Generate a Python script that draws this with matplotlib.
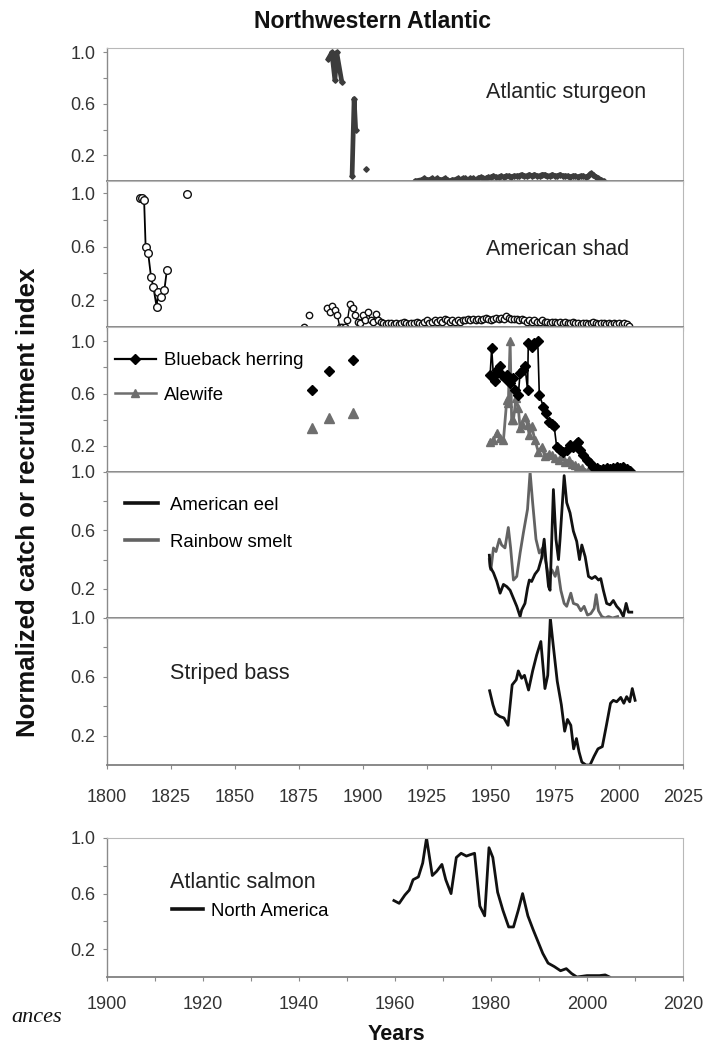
import matplotlib
matplotlib.use("Agg")
from matplotlib import pyplot as plt
from matplotlib.ticker import FixedLocator, NullFormatter
import numpy as np

plt.rcParams['font.family'] = ['Liberation Sans', 'DejaVu Sans']

# ---------------- data ----------------
# Atlantic sturgeon
sturgeon_a_years = [1886.5, 1887.9, 1889.1, 1889.8, 1891.8]
sturgeon_a = [0.95, 1.0, 0.785, 1.0, 0.77]
sturgeon_b_years = [1895.8, 1896.6, 1897.2]
sturgeon_b = [0.04, 0.64, 0.40]
sturgeon_c_years = [1901.2]
sturgeon_c = [0.09]
sturgeon_d_years = [1920.4] + list(range(1923, 1995))
sturgeon_d = [0.0,
              0.01, 0.02, 0.01, 0.01, 0.02, 0.01, 0.02, 0.01, 0.01, 0.02,
              0.01, 0.00, 0.01, 0.01, 0.02, 0.01, 0.02,
              0.02, 0.01, 0.02, 0.02, 0.01, 0.02, 0.03, 0.02, 0.02, 0.03,
              0.03, 0.04, 0.03, 0.03, 0.04, 0.03, 0.04, 0.04, 0.03, 0.04,
              0.04, 0.04, 0.05, 0.04, 0.04, 0.05, 0.04, 0.05, 0.04, 0.04,
              0.05, 0.05, 0.04, 0.04, 0.05, 0.04, 0.04, 0.05, 0.04, 0.04,
              0.04, 0.03, 0.04, 0.04, 0.03, 0.04, 0.04, 0.03, 0.04, 0.06,
              0.05, 0.03, 0.02, 0.01, 0.00]

# American shad
shad_early_years = [1813.0, 1813.9, 1814.6, 1815.2, 1816.2, 1817.3, 1818.2,
                    1819.5, 1820.1, 1821.2, 1822.5, 1823.5]
shad_early = [0.96, 0.96, 0.95, 0.60, 0.55, 0.375, 0.30, 0.15, 0.26, 0.225,
              0.275, 0.425]
shad_1831_years = [1831.5]
shad_1831 = [0.99]
nan = np.nan
shad_late = [0.0, nan, 0.09, nan, nan, nan, nan, nan, nan,          # 1877-1885
             0.14, 0.11, 0.155, 0.125, 0.09, 0.0, 0.0, 0.0,          # 1886-1893
             0.05, 0.175, 0.14, 0.09, 0.04, 0.03, 0.09, 0.05,        # 1894-1901
             0.11, 0.05, 0.04, 0.10, 0.05, 0.04, 0.03,               # 1902-1908
             0.02, 0.03, 0.03, 0.02, 0.03, 0.02, 0.03, 0.04, 0.03, 0.02, 0.03,
             0.03, 0.04, 0.03, 0.02, 0.04, 0.05, 0.03, 0.04, 0.05, 0.04,
             0.05, 0.04, 0.06, 0.05, 0.04, 0.05, 0.04, 0.05, 0.04, 0.05,
             0.05, 0.06, 0.05, 0.06, 0.05, 0.06, 0.05, 0.06, 0.07, 0.06,
             0.05, 0.06, 0.07, 0.06, 0.07, 0.06, 0.08, 0.07, 0.06, 0.06,
             0.06, 0.05, 0.06, 0.05, 0.04, 0.05, 0.04, 0.05, 0.04, 0.04,
             0.05, 0.04, 0.04, 0.03, 0.04, 0.04, 0.03, 0.04, 0.03, 0.04,
             0.03, 0.03, 0.04, 0.03, 0.03, 0.02, 0.03, 0.03, 0.02, 0.03,
             0.04, 0.03, 0.02, 0.03, 0.03, 0.02, 0.03, 0.02, 0.03, 0.02,
             0.03, 0.02, 0.03, 0.02, 0.01]
shad_late_years = list(range(1877, 1877 + len(shad_late)))

# Blueback herring and alewife
hist_years = [1880.3, 1886.8, 1896.3]
herring_hist = [0.63, 0.775, 0.86]
alewife_hist = [0.34, 0.41, 0.455]
herring_years = [1949.7, 1950.3, 1951.0, 1951.6, 1952.5, 1953.6, 1954.2, 1955.5,
                 1956.2, 1957.5, 1958.5, 1959.4, 1960.7, 1961.4, 1962.4, 1963.3,
                 1964.3, 1964.6, 1965.9, 1967.0, 1968.3, 1968.9, 1970.5, 1971.5,
                 1972.5, 1973.8, 1974.7, 1975.7, 1977.0, 1978.3, 1979.6, 1980.9,
                 1982.2, 1983.5, 1984.2, 1984.8, 1986.1, 1987.4, 1988.7, 1990.0,
                 1991.3, 1992.6, 1993.9, 1995.2, 1996.5, 1997.8, 1999.1, 2000.4,
                 2001.7, 2003.0, 2004.3]
herring = [0.74, 0.95, 0.73, 0.70, 0.78, 0.81, 0.74, 0.72, 0.74, 0.68, 0.72,
           0.63, 0.59, 0.76, 0.78, 0.81, 0.63, 0.985, 0.96, 0.985, 1.0, 0.59,
           0.50, 0.45, 0.385, 0.37, 0.35, 0.19, 0.17, 0.155, 0.17, 0.21, 0.19,
           0.22, 0.23, 0.17, 0.13, 0.09, 0.067, 0.04, 0.03, 0.015, 0.02, 0.03,
           0.02, 0.03, 0.04, 0.03, 0.04, 0.02, 0.01]
alewife_years = [1949.7, 1951.0, 1952.3, 1953.6, 1954.9, 1956.2, 1956.8, 1957.5,
                 1958.1, 1958.8, 1959.8, 1960.7, 1961.4, 1962.3, 1963.3, 1964.3,
                 1965.0, 1965.9, 1967.2, 1968.5, 1969.8, 1971.1, 1972.5, 1973.8,
                 1975.1, 1976.4, 1977.7, 1979.0, 1980.3, 1981.6, 1982.9, 1984.2,
                 1985.5, 1986.8, 1988.1, 1989.4]
alewife = [0.23, 0.245, 0.30, 0.26, 0.245, 0.55, 0.53, 1.0, 0.40, 0.40, 0.565,
           0.49, 0.335, 0.37, 0.42, 0.36, 0.28, 0.35, 0.245, 0.155, 0.195, 0.12,
           0.14, 0.13, 0.105, 0.09, 0.12, 0.08, 0.09, 0.065, 0.055, 0.04, 0.03,
           0.0, 0.01, 0.0]

# American eel and rainbow smelt
eel_years = [1949.4, 1949.7, 1951.0, 1952.3, 1953.6, 1954.9, 1956.2, 1957.5,
             1958.8, 1960.1, 1961.4, 1962.0, 1963.3, 1964.3, 1965.0, 1965.9,
             1967.2, 1968.5, 1969.8, 1970.8, 1971.5, 1972.5, 1973.1, 1974.4,
             1975.4, 1976.4, 1977.0, 1978.6, 1979.6, 1980.9, 1982.2, 1983.5,
             1984.6, 1985.5, 1986.8, 1988.1, 1989.4, 1990.7, 1992.0, 1992.9,
             1993.9, 1995.2, 1996.5, 1997.8, 1999.1, 2000.4, 2001.7, 2002.8,
             2003.7, 2005.0]
eel = [0.43, 0.35, 0.31, 0.25, 0.17, 0.23, 0.215, 0.19, 0.135, 0.08, 0.01,
       0.055, 0.10, 0.205, 0.26, 0.25, 0.30, 0.33, 0.41, 0.54, 0.39, 0.215,
       0.19, 0.88, 0.54, 0.40, 0.54, 0.975, 0.79, 0.72, 0.595, 0.525, 0.40,
       0.50, 0.42, 0.285, 0.27, 0.285, 0.26, 0.27, 0.19, 0.10, 0.09, 0.12,
       0.08, 0.055, 0.01, 0.10, 0.04, 0.04]
smelt_years = [1949.4, 1950.0, 1951.0, 1952.0, 1953.3, 1954.2, 1955.5, 1956.8,
               1957.7, 1958.8, 1960.1, 1961.4, 1962.7, 1964.3, 1965.3, 1966.3,
               1967.6, 1968.9, 1970.2, 1971.5, 1972.5, 1973.8, 1975.1, 1976.0,
               1977.3, 1978.6, 1979.6, 1981.2, 1982.2, 1983.8, 1985.1, 1986.4,
               1987.7, 1989.0, 1990.3, 1991.1, 1992.0, 1993.3, 1994.6, 1995.9,
               1997.5, 1999.5]
smelt = [0.40, 0.33, 0.48, 0.455, 0.54, 0.50, 0.48, 0.62, 0.48, 0.26, 0.285,
         0.445, 0.585, 0.745, 1.0, 0.79, 0.54, 0.445, 0.48, 0.38, 0.285, 0.33,
         0.285, 0.35, 0.19, 0.10, 0.08, 0.17, 0.10, 0.09, 0.05, 0.08, 0.02,
         0.03, 0.065, 0.16, 0.05, 0.01, 0.0, 0.01, 0.0, 0.01]

# Striped bass
bass_years = [1949.5, 1950.8, 1951.9, 1953.5, 1955.1, 1956.7, 1958.3, 1959.9,
              1960.7, 1962.0, 1963.1, 1964.7, 1966.3, 1967.9, 1969.5, 1971.1,
              1972.2, 1973.2, 1974.3, 1975.9, 1977.5, 1978.8, 1979.9, 1981.2,
              1982.3, 1983.4, 1984.4, 1985.5, 1987.1, 1988.7, 1990.3, 1991.8,
              1993.5, 1995.1, 1996.7, 1997.8, 1999.1, 2000.7, 2001.9, 2003.0,
              2004.2, 2005.2, 2006.3]
bass = [0.505, 0.41, 0.35, 0.33, 0.32, 0.27, 0.545, 0.58, 0.64, 0.59, 0.61,
        0.51, 0.64, 0.75, 0.84, 0.52, 0.61, 1.0, 0.82, 0.57, 0.41, 0.23, 0.31,
        0.27, 0.11, 0.18, 0.09, 0.02, 0.0, 0.0, 0.06, 0.11, 0.125, 0.27, 0.42,
        0.44, 0.43, 0.46, 0.42, 0.465, 0.43, 0.52, 0.44]

# Atlantic salmon, North America
salmon_years = [1959.8, 1960.9, 1962.1, 1963.0, 1963.8, 1964.9, 1965.8, 1966.6,
                1967.8, 1968.7, 1969.8, 1970.6, 1971.7, 1972.8, 1973.8, 1974.9,
                1975.7, 1976.6, 1977.7, 1978.7, 1979.6, 1980.4, 1981.4, 1982.5,
                1983.7, 1984.7, 1985.7, 1986.6, 1987.7, 1988.8, 1989.8, 1990.8,
                1991.9, 1993.2, 1994.5, 1995.7, 1996.8, 1997.9, 2000.0, 2002.6,
                2003.8, 2004.7]
salmon = [0.55, 0.53, 0.59, 0.625, 0.70, 0.72, 0.82, 1.0, 0.73, 0.76, 0.81,
          0.70, 0.60, 0.86, 0.89, 0.87, 0.88, 0.89, 0.51, 0.44, 0.93, 0.86,
          0.61, 0.48, 0.36, 0.36, 0.48, 0.60, 0.44, 0.34, 0.255, 0.17, 0.10,
          0.075, 0.045, 0.06, 0.025, 0.0, 0.01, 0.01, 0.015, 0.0]

# ---------------- layout ----------------
W, H = 710, 1047
fig = plt.figure(figsize=(W / 100, H / 100), dpi=100)


def make_axes(top, bottom, left=106.7, right=683.0):
    return fig.add_axes([left / W, 1 - bottom / H, (right - left) / W, (bottom - top) / H])


tick_color = '#333333'
label_fs = 15.5
legend_fs = 13.4


def style(ax, xlim, ylim, xmajor, show_xlabels=False, xpad=14):
    ax.set_xlim(*xlim)
    ax.set_ylim(*ylim)
    for s in ['top', 'right']:
        ax.spines[s].set_color('#b8b8b8')
        ax.spines[s].set_linewidth(0.8)
        ax.spines[s].set_linestyle((0, (1, 1)))
    ax.spines['left'].set_color('#8a8a8a')
    ax.spines['left'].set_linewidth(1.0)
    ax.spines['bottom'].set_color('#808080')
    ax.spines['bottom'].set_linewidth(1.3)
    ax.yaxis.set_major_locator(FixedLocator([0.2, 0.6, 1.0]))
    ax.yaxis.set_minor_locator(FixedLocator([0.4, 0.8]))
    ax.set_yticklabels(['0.2', '0.6', '1.0'])
    ax.xaxis.set_major_locator(FixedLocator(xmajor))
    ax.tick_params(axis='both', which='both', direction='out', length=3,
                   width=0.8, color='#8a8a8a', labelcolor=tick_color,
                   labelsize=13)
    ax.tick_params(axis='y', pad=5)
    ax.tick_params(axis='x', pad=xpad)
    if not show_xlabels:
        ax.xaxis.set_major_formatter(NullFormatter())


years_top = list(range(1800, 2026, 25))
top_xlim = (1800, 2025)

# Panel 1: Atlantic sturgeon
ax1 = make_axes(48, 181)
style(ax1, top_xlim, (0.0, 1.035), years_top)
sturg_kw = dict(color='#3c3c3c', lw=3.4, marker='D', ms=2.8, solid_capstyle='round')
ax1.plot(sturgeon_a_years, sturgeon_a, **sturg_kw)
ax1.plot(sturgeon_b_years, sturgeon_b, **sturg_kw)
ax1.plot(sturgeon_c_years, sturgeon_c, **sturg_kw)
ax1.plot(sturgeon_d_years, sturgeon_d, **sturg_kw)
ax1.text(1948, 0.69, 'Atlantic sturgeon', fontsize=label_fs, color='#222222',
         va='center', ha='left')

# Panel 2: American shad
ax2 = make_axes(181, 327)
style(ax2, top_xlim, (0.0, 1.09), years_top)
shad_kw = dict(color='black', lw=1.3, marker='o', ms=5.5, mfc='white',
               mec='#111111', mew=1.0, clip_on=False)
ax2.plot(shad_early_years, shad_early, **shad_kw)
ax2.plot(shad_1831_years, shad_1831, **shad_kw)
shad_kw.update(ms=4.6, lw=1.0)
ax2.plot(shad_late_years, shad_late, **shad_kw)
ax2.text(1948, 0.575, 'American shad', fontsize=label_fs, color='#222222',
         va='center', ha='left')

# Panel 3: Blueback herring and alewife
ax3 = make_axes(327, 472)
style(ax3, top_xlim, (0.0, 1.11), years_top)
ale_color = '#6e6e6e'
ax3.plot(hist_years, alewife_hist, ls='none', marker='^', ms=6.5, color=ale_color)
ax3.plot(hist_years, herring_hist, ls='none', marker='D', ms=5, color='black')
ax3.plot(alewife_years, alewife, color=ale_color, lw=2.0, marker='^', ms=6)
ax3.plot(herring_years, herring, color='black', lw=1.2, marker='D', ms=4.6)
h_her, = ax3.plot([], [], color='black', lw=1.6, marker='D', ms=5)
h_ale, = ax3.plot([], [], color=ale_color, lw=1.8, marker='^', ms=6)
ax3.legend([h_her, h_ale], ['Blueback herring', 'Alewife'], loc='upper left',
           bbox_to_anchor=(0.014, 0.826), frameon=False, fontsize=legend_fs,
           handlelength=2.2, handletextpad=0.45, labelspacing=0.95,
           borderpad=0, borderaxespad=0)

# Panel 4: American eel and rainbow smelt
ax4 = make_axes(472, 618)
style(ax4, top_xlim, (0.0, 1.0), years_top)
ax4.plot(smelt_years, smelt, color='#626262', lw=2.0)
ax4.plot(eel_years, eel, color='#111111', lw=2.0)
h_eel, = ax4.plot([], [], color='#111111', lw=2.6)
h_smelt, = ax4.plot([], [], color='#626262', lw=2.6)
ax4.legend([h_eel, h_smelt], ['American eel', 'Rainbow smelt'], loc='upper left',
           bbox_to_anchor=(0.032, 0.829), frameon=False, fontsize=legend_fs,
           handlelength=1.75, handletextpad=0.65, labelspacing=1.07,
           borderpad=0, borderaxespad=0)

# Panel 5: Striped bass
ax5 = make_axes(618, 765)
style(ax5, top_xlim, (0.0, 1.0), years_top, show_xlabels=True, xpad=14)
ax5.plot(bass_years, bass, color='#111111', lw=2.0)
ax5.text(1824.8, 0.62, 'Striped bass', fontsize=label_fs, color='#222222',
         va='center', ha='left')

# Panel 6: Atlantic salmon
ax6 = make_axes(838, 977)
style(ax6, (1900, 2020), (0.0, 1.0), list(range(1900, 2021, 20)),
      show_xlabels=True, xpad=11)
ax6.xaxis.set_minor_locator(FixedLocator(list(range(1910, 2020, 20))))
ax6.plot(salmon_years, salmon, color='#111111', lw=2.0)
ax6.text(1913.2, 0.68, 'Atlantic salmon', fontsize=label_fs, color='#222222',
         va='center', ha='left')
h_sal, = ax6.plot([], [], color='#111111', lw=2.6)
ax6.legend([h_sal], ['North America'], loc='upper left',
           bbox_to_anchor=(0.114, 0.536), frameon=False, fontsize=legend_fs,
           handlelength=1.65, handletextpad=0.45, borderpad=0, borderaxespad=0)

# figure texts
fig.text(373 / W, 1 - 22 / H, 'Northwestern Atlantic', fontsize=16.6,
         fontweight='bold', ha='center', va='center', color='#111111')
fig.text(28 / W, 1 - 502 / H, 'Normalized catch or recruitment index',
         fontsize=18.5, fontweight='bold', rotation=90, ha='center', va='center',
         color='#111111')
fig.text(396 / W, 1 - 1035 / H, 'Years', fontsize=15.5, fontweight='bold',
         ha='center', va='center', color='#111111')
fig.text(62 / W, 1 - 1017 / H, 'ances', fontsize=16, style='italic',
         family=['Liberation Serif', 'DejaVu Serif'], ha='right', va='center',
         color='#111111')

fig.savefig('out.png', dpi=100)
